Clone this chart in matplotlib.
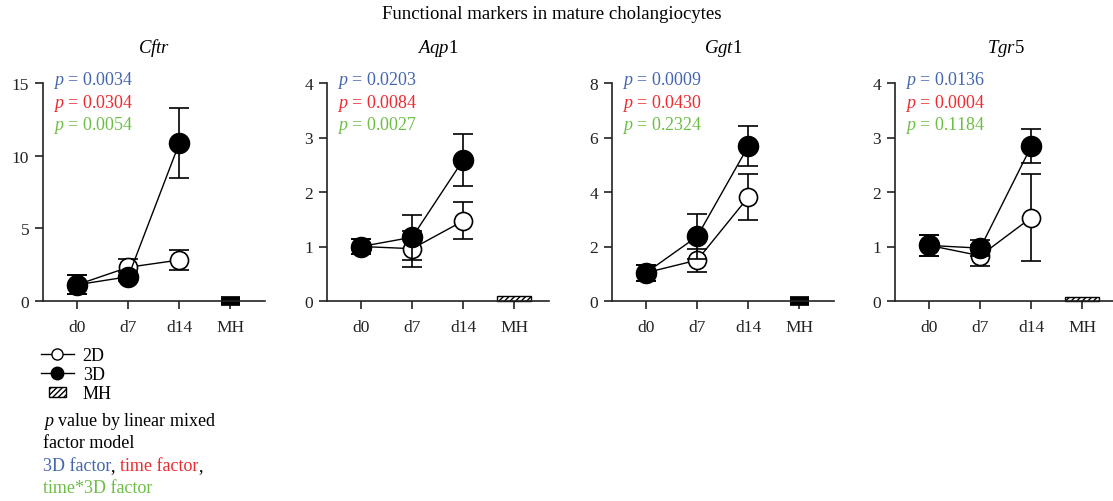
import matplotlib
matplotlib.use("Agg")
import matplotlib.pyplot as plt
from matplotlib.lines import Line2D
from matplotlib.patches import Patch, Rectangle
from matplotlib.legend_handler import HandlerPatch
import numpy as np

plt.rcParams['font.family'] = ['Liberation Serif', 'DejaVu Serif']
plt.rcParams['mathtext.fontset'] = 'custom'
plt.rcParams['mathtext.rm'] = 'Liberation Serif'
plt.rcParams['mathtext.it'] = 'Liberation Serif:italic'
plt.rcParams['hatch.linewidth'] = 1.0

categories = ["d0", "d7", "d14", "MH"]
timepoints = ["d0", "d7", "d14"]
genes = [r"$\mathit{Cftr}$", r"$\mathit{Aqp}$1", r"$\mathit{Ggt}$1", r"$\mathit{Tgr}$5"]

mean_2d = [[1.12, 2.32, 2.82], [1.00, 0.96, 1.47], [1.04, 1.50, 3.81], [1.02, 0.83, 1.53]]
err_2d = [[0.67, 0.57, 0.67], [0.14, 0.33, 0.34], [0.29, 0.42, 0.84], [0.20, 0.19, 0.80]]
mean_3d = [[1.12, 1.67, 10.85], [1.00, 1.17, 2.59], [1.04, 2.37, 5.68], [1.02, 0.97, 2.84]]
err_3d = [[0.67, 0.30, 2.40], [0.14, 0.41, 0.48], [0.29, 0.83, 0.73], [0.20, 0.15, 0.31]]
mh_values = [0.004, 0.10, 0.006, 0.07]

y_max = [15, 4, 8, 4]
y_ticks = [[0, 5, 10, 15], [0, 1, 2, 3, 4], [0, 2, 4, 6, 8], [0, 1, 2, 3, 4]]

p_3d = ["0.0034", "0.0203", "0.0009", "0.0136"]
p_time = ["0.0304", "0.0084", "0.0430", "0.0004"]
p_inter = ["0.0054", "0.0027", "0.2324", "0.1184"]

BLUE = "#4466b0"
RED = "#ee2a2f"
GREEN = "#6cbf45"
FS = 13
TICK_FS = 12.5

fig = plt.figure(figsize=(11.13, 5.02), dpi=100)
fig.text(0.496, 0.972, "Functional markers in mature cholangiocytes",
         ha="center", va="center", fontsize=13.5)

lefts = [43, 327, 612, 895]
W, H = 1113, 502
ax_w = 222
for i in range(4):
    ax = fig.add_axes([lefts[i] / W, 1 - 302 / H, ax_w / W, 218 / H])
    x = np.arange(len(timepoints))
    ax.errorbar(x, mean_2d[i], yerr=err_2d[i], color="black", lw=1.0,
                marker="o", ms=13, mfc="white", mec="black", mew=1.2,
                capsize=7, capthick=1.2, elinewidth=1.2, zorder=3)
    ax.errorbar(x, mean_3d[i], yerr=err_3d[i], color="black", lw=1.0,
                marker="o", ms=14.5, mfc="black", mec="black",
                capsize=7, capthick=1.2, elinewidth=1.2, zorder=4)
    tiny = mh_values[i] < 0.02
    ax.bar([3], [mh_values[i]], width=0.38 if tiny else 0.67,
           color="black" if tiny else "white",
           edgecolor="black", linewidth=7 if tiny else 1.0,
           hatch=None if tiny else "//////", clip_on=False, zorder=2)
    ax.set_xlim(-0.67, 3.68)
    ax.set_ylim(0, y_max[i])
    ax.set_yticks(y_ticks[i])
    ax.set_xticks(range(4))
    ax.set_xticklabels(categories)
    for s in ["top", "right"]:
        ax.spines[s].set_visible(False)
    for s in ["left", "bottom"]:
        ax.spines[s].set_linewidth(1.2)
        ax.spines[s].set_color("#222222")
    ax.tick_params(direction="out", length=6, width=1.2, labelsize=TICK_FS,
                   colors="#222222", pad=4)
    ax.tick_params(axis="x", pad=7)
    ax.set_title(genes[i], fontsize=13.5, y=1.105)
    for j, (pv, col) in enumerate(zip([p_3d[i], p_time[i], p_inter[i]], [BLUE, RED, GREEN])):
        ax.text(0.045, 1.015 - j * 0.103, r"$\mathit{p}$ = " + pv, color=col,
                transform=ax.transAxes, fontsize=FS, va="center", ha="left")


def small_rect(legend, orig_handle, xdescent, ydescent, width, height, fontsize):
    w = width * 0.5
    h = height * 0.75
    return Rectangle((-xdescent + (width - w) / 2, -ydescent + (height - h) / 2), w, h)


handles = [
    Line2D([0], [0], color="black", lw=1.0, marker="o", ms=8, mfc="white", mec="black"),
    Line2D([0], [0], color="black", lw=1.0, marker="o", ms=9, mfc="black", mec="black"),
    Patch(facecolor="white", edgecolor="black", hatch="//////", lw=1.0),
]
leg = fig.legend(handles, ["2D", "3D", "MH"], loc="upper left",
                 bbox_to_anchor=(0.037, 1 - 348 / H), frameon=False,
                 fontsize=FS, handlelength=1.8, handletextpad=0.5,
                 labelspacing=0.12, borderaxespad=0, borderpad=0,
                 handler_map={Patch: HandlerPatch(patch_func=small_rect)})

fig.text(43 / W, 1 - 421 / H, r"$\mathit{p}$ value by linear mixed", fontsize=FS, va="center")
fig.text(43 / W, 1 - 444 / H, "factor model", fontsize=FS, va="center")
t1 = fig.text(43 / W, 1 - 467 / H, "3D factor", color=BLUE, fontsize=FS, va="center")
t2 = fig.text(0, 0, ", ", fontsize=FS, va="center")
t3 = fig.text(0, 0, "time factor", color=RED, fontsize=FS, va="center")
t4 = fig.text(0, 0, ",", fontsize=FS, va="center")
fig.canvas.draw()
r = fig.canvas.get_renderer()
prev = t1
for t in [t2, t3, t4]:
    bb = prev.get_window_extent(r)
    x0, y0 = fig.transFigure.inverted().transform((bb.x1, 0))
    t.set_position((x0, 1 - 467 / H))
    prev = t
fig.text(43 / W, 1 - 489 / H, "time*3D factor", color=GREEN, fontsize=FS, va="center")

fig.savefig("out.png", dpi=100)
